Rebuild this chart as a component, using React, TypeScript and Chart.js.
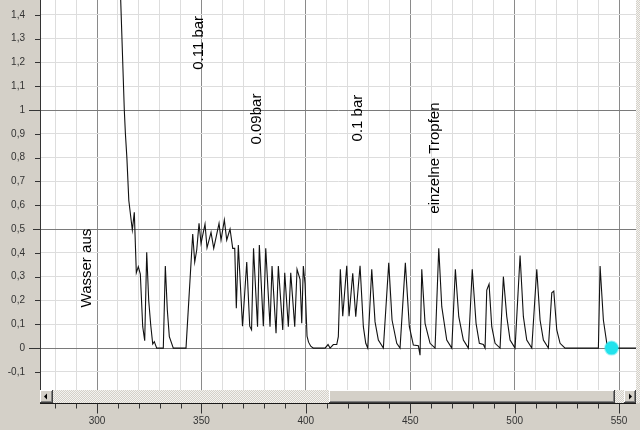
import React, { useEffect, useRef } from 'react';
import { Chart, registerables } from 'chart.js';

Chart.register(...registerables);

// ---- data ----
const xValues = [
  310.3, 311.35, 313.07, 313.6, 314.3, 315.23, 316.91, 317.86, 318.82, 319.78,
  320.74, 321.89, 322.84, 323.8, 324.76, 325.72, 326.68, 327.44, 328.59, 331.75,
  332.71, 333.67, 334.63, 336.54, 342.62, 345.83, 346.79, 347.75, 348.85, 349.81,
  351.72, 352.68, 354.6, 355.89, 358.43, 359.39, 360.97, 362.12, 363.7, 364.99,
  365.95, 366.71, 367.67, 369.68, 371.7, 373.13, 374.0, 374.95, 376.87, 377.73,
  379.65, 380.8, 382.85, 383.81, 385.73, 386.83, 388.94, 389.89, 391.62, 392.77,
  394.68, 395.79, 397.22, 398.04, 398.8, 399.62, 400.57, 401.29, 402.35, 403.59,
  409.2, 410.63, 411.59, 413.17, 414.8, 415.56, 416.52, 417.67, 419.59, 420.69,
  422.46, 423.9, 425.96, 427.54, 428.69, 429.65, 431.56, 433.14, 434.72, 437.12,
  439.7, 441.28, 443.53, 445.11, 447.65, 449.57, 451.48, 453.88, 454.69, 455.51,
  457.09, 459.48, 461.88, 463.65, 465.09, 467.48, 469.88, 471.6, 473.23, 475.43,
  477.83, 479.69, 481.51, 483.09, 485.01, 485.82, 486.64, 487.74, 489.03, 490.61,
  493.01, 494.59, 496.22, 497.8, 500.19, 502.59, 504.17, 505.79, 508.19, 510.58,
  512.16, 513.75, 516.14, 517.77, 518.73, 520.16, 521.74, 524.14, 540.09, 540.9,
  542.48, 544.11, 545.69, 558.2,
];
const yValues = [
  1.75, 1.46, 1.0, 0.9, 0.8, 0.62, 0.496, 0.57, 0.316, 0.342,
  0.311, 0.09, 0.031, 0.402, 0.2, 0.097, 0.017, 0.027, 0, 0,
  0.345, 0.16, 0.048, 0, 0, 0.479, 0.361, 0.412, 0.524, 0.44,
  0.521, 0.421, 0.486, 0.419, 0.524, 0.454, 0.538, 0.454, 0.5, 0.419,
  0.419, 0.167, 0.433, 0.092, 0.361, 0.092, 0.077, 0.419, 0.09, 0.433,
  0.092, 0.419, 0.09, 0.345, 0.062, 0.345, 0.076, 0.316, 0.09, 0.316,
  0.09, 0.331, 0.289, 0.104, 0.345, 0.27, 0.05, 0.025, 0.008, 0,
  0, 0.015, 0, 0.015, 0.015, 0.048, 0.331, 0.134, 0.346, 0.134,
  0.314, 0.132, 0.346, 0.09, 0.02, 0, 0.331, 0.11, 0.034, 0,
  0.358, 0.118, 0.02, 0, 0.358, 0.09, 0.013, 0.01, -0.03, 0.331,
  0.104, 0.02, 0, 0.419, 0.174, 0.034, 0, 0.331, 0.132, 0.034,
  0, 0.331, 0.104, 0.02, 0.015, 0, 0.244, 0.269, 0.09, 0.02,
  0, 0.3, 0.132, 0.034, 0, 0.389, 0.132, 0.034, 0, 0.331,
  0.118, 0.034, 0, 0.232, 0.239, 0.076, 0.02, 0, 0, 0.345,
  0.118, 0.02, 0, 0,
];
const markerX = [546.4];
const markerY = [0];

const xTickValues = [
  280, 290, 300, 310, 320, 330, 340, 350, 360, 370, 380, 390, 400, 410,
  420, 430, 440, 450, 460, 470, 480, 490, 500, 510, 520, 530, 540, 550,
];
const xLabelValues = [300, 350, 400, 450, 500, 550];
const yTickValues = [-0.1, 0, 0.1, 0.2, 0.3, 0.4, 0.5, 0.6, 0.7, 0.8, 0.9, 1, 1.1, 1.2, 1.3, 1.4];
const yMajorValues = [0, 0.5, 1];

const annotationTexts = ['Wasser aus', '0.11 bar', '0.09bar', '0.1 bar', 'einzelne Tropfen'];
const annotationX = [295.2, 348.85, 376.63, 425.0, 461.88];
const annotationY = [0.336, 1.282, 0.962, 0.966, 0.798];

const X_MIN = 272.7;
const X_MAX = 558.1;
const Y_MIN = -0.176;
const Y_MAX = 1.462;

const FONT = '"Liberation Sans", Arial, sans-serif';
const WIN_GRAY = '#d4d0c8';

const isMajorY = (v: number) => yMajorValues.some((m) => Math.abs(m - v) < 1e-6);
const isMajorX = (v: number) => xLabelValues.some((m) => Math.abs(m - v) < 1e-6);

function raised(ctx: CanvasRenderingContext2D, x: number, y: number, w: number, h: number) {
  ctx.fillStyle = WIN_GRAY;
  ctx.fillRect(x, y, w, h);
  ctx.fillStyle = '#ffffff';
  ctx.fillRect(x, y, w - 1, 1);
  ctx.fillRect(x, y, 1, h - 1);
  ctx.fillStyle = '#404040';
  ctx.fillRect(x, y + h - 1, w, 1);
  ctx.fillRect(x + w - 1, y, 1, h);
  ctx.fillStyle = '#808080';
  ctx.fillRect(x + 1, y + h - 2, w - 2, 1);
  ctx.fillRect(x + w - 2, y + 1, 1, h - 2);
}

export default function App() {
  const ref = useRef<HTMLCanvasElement>(null);

  useEffect(() => {
    const canvas = ref.current;
    if (!canvas) return;

    const pc = document.createElement('canvas');
    pc.width = 2;
    pc.height = 2;
    const pctx = pc.getContext('2d')!;
    pctx.fillStyle = WIN_GRAY;
    pctx.fillRect(0, 0, 2, 2);
    pctx.fillStyle = '#f4f3f0';
    pctx.fillRect(0, 0, 1, 1);
    pctx.fillRect(1, 1, 1, 1);

    const bgPlugin = {
      id: 'bgPlugin',
      beforeDraw(chart: any) {
        const { ctx, chartArea: a, width, height } = chart;
        ctx.save();
        ctx.fillStyle = WIN_GRAY;
        ctx.fillRect(0, 0, width, height);
        ctx.fillStyle = '#ffffff';
        ctx.fillRect(a.left, a.top, a.right - a.left, a.bottom - a.top);
        ctx.restore();
      },
    };

    const annotationPlugin = {
      id: 'annotationPlugin',
      afterDatasetsDraw(chart: any) {
        const { ctx } = chart;
        const xs = chart.scales.x;
        const ys = chart.scales.y;
        ctx.save();
        ctx.font = `15px ${FONT}`;
        ctx.fillStyle = '#000000';
        ctx.textAlign = 'center';
        ctx.textBaseline = 'middle';
        annotationTexts.forEach((t, i) => {
          const px = xs.getPixelForValue(annotationX[i]);
          const py = ys.getPixelForValue(annotationY[i]);
          ctx.save();
          ctx.translate(px, py);
          ctx.rotate(-Math.PI / 2);
          ctx.fillText(t, 0, 0);
          ctx.restore();
        });
        ctx.restore();
      },
    };

    const chromePlugin = {
      id: 'chromePlugin',
      afterDraw(chart: any) {
        const { ctx, chartArea: a, width } = chart;
        const xs = chart.scales.x;
        const ys = chart.scales.y;
        const pattern = ctx.createPattern(pc, 'repeat');
        ctx.save();
        // right vertical strip
        ctx.fillStyle = pattern;
        ctx.fillRect(a.right, 0, width - a.right, a.bottom + 13);

        // horizontal scrollbar
        const top = a.bottom;
        const h = 13;
        const left = a.left;
        const right = a.right;
        ctx.fillStyle = pattern;
        ctx.fillRect(left, top, right - left, h);
        raised(ctx, left, top, 13, h);
        raised(ctx, right - 12, top, 12, h);
        const thumbL = left + 289;
        const thumbR = right - 21;
        raised(ctx, thumbL, top, thumbR - thumbL, h);
        // arrows
        ctx.fillStyle = '#000000';
        let cx = left + 6;
        const cy = top + 6.5;
        ctx.beginPath();
        ctx.moveTo(cx - 2, cy);
        ctx.lineTo(cx + 1, cy - 3);
        ctx.lineTo(cx + 1, cy + 3);
        ctx.closePath();
        ctx.fill();
        cx = right - 6;
        ctx.beginPath();
        ctx.moveTo(cx + 2, cy);
        ctx.lineTo(cx - 1, cy - 3);
        ctx.lineTo(cx - 1, cy + 3);
        ctx.closePath();
        ctx.fill();

        // x axis line and ticks under the scrollbar
        const axisY = top + h + 0.5;
        ctx.strokeStyle = '#1a1a1a';
        ctx.lineWidth = 1;
        ctx.beginPath();
        ctx.moveTo(left, axisY);
        ctx.lineTo(right, axisY);
        ctx.stroke();
        ctx.strokeStyle = '#333333';
        xs.ticks.forEach((t: any) => {
          const px = Math.round(xs.getPixelForValue(t.value)) + 0.5;
          const len = isMajorX(t.value) ? 10 : 5;
          ctx.beginPath();
          ctx.moveTo(px, axisY);
          ctx.lineTo(px, axisY + len);
          ctx.stroke();
        });

        // y ticks
        ys.ticks.forEach((t: any) => {
          const py = Math.round(ys.getPixelForValue(t.value)) + 0.5;
          const v = t.value;
          let len = 5;
          if (Math.abs(v) < 1e-6 || Math.abs(v - 1) < 1e-6) len = 11;
          else if (Math.abs(v - 0.5) < 1e-6) len = 7;
          ctx.beginPath();
          ctx.moveTo(a.left - len, py);
          ctx.lineTo(a.left, py);
          ctx.stroke();
        });
        ctx.restore();
      },
    };

    const linePts = xValues.map((x, i) => ({ x, y: yValues[i] }));
    const markerPts = markerX.map((x, i) => ({ x, y: markerY[i] }));

    const chart = new Chart(canvas, {
      type: 'line',
      data: {
        datasets: [
          {
            data: markerPts,
            showLine: false,
            pointRadius: 6.5,
            pointBackgroundColor: '#22e2ec',
            pointBorderColor: 'rgba(34,226,236,0.45)',
            pointBorderWidth: 2,
            order: 0,
          } as any,
          {
            data: linePts,
            borderColor: '#111111',
            borderWidth: 1.1,
            pointRadius: 0,
            tension: 0,
            fill: false,
            order: 1,
          } as any,
        ],
      },
      options: {
        animation: false,
        responsive: false,
        maintainAspectRatio: false,
        events: [],
        layout: { autoPadding: false, padding: { top: 0, right: 4, bottom: 0, left: 0 } },
        plugins: {
          legend: { display: false },
          tooltip: { enabled: false },
          title: { display: false },
        },
        scales: {
          x: {
            type: 'linear',
            min: X_MIN,
            max: X_MAX,
            afterBuildTicks: (s: any) => {
              s.ticks = xTickValues.map((v) => ({ value: v }));
            },
            afterFit: (s: any) => {
              s.height = 40;
              s.paddingLeft = 0;
              s.paddingRight = 0;
            },
            grid: {
              drawTicks: false,
              lineWidth: 1,
              color: (c: any) => (c.tick && isMajorX(c.tick.value) ? '#8a8a8a' : '#dddddd'),
            },
            border: { display: false },
            ticks: {
              autoSkip: false,
              maxRotation: 0,
              minRotation: 0,
              padding: 25,
              color: '#333333',
              font: { size: 10, family: FONT },
              callback: (v: any) => (isMajorX(Number(v)) ? String(v) : ''),
            },
          },
          y: {
            type: 'linear',
            min: Y_MIN,
            max: Y_MAX,
            afterBuildTicks: (s: any) => {
              s.ticks = yTickValues.map((v) => ({ value: v }));
            },
            afterFit: (s: any) => {
              s.width = 40;
              s.paddingTop = 0;
              s.paddingBottom = 0;
            },
            grid: {
              drawTicks: false,
              lineWidth: 1,
              color: (c: any) => (c.tick && isMajorY(c.tick.value) ? '#7a7a7a' : '#dddddd'),
            },
            border: { display: true, color: '#333333', width: 1 },
            ticks: {
              autoSkip: false,
              padding: 15,
              color: '#333333',
              font: { size: 10, family: FONT },
              callback: (v: any) => String(Number(Number(v).toFixed(1))).replace('.', ','),
            },
          },
        },
      },
      plugins: [bgPlugin, annotationPlugin, chromePlugin],
    } as any);

    return () => chart.destroy();
  }, []);

  return (
    <div style={{ position: 'fixed', left: 0, top: 0, width: 640, height: 430 }}>
      <canvas ref={ref} width={640} height={430} style={{ display: 'block', width: 640, height: 430 }} />
    </div>
  );
}
